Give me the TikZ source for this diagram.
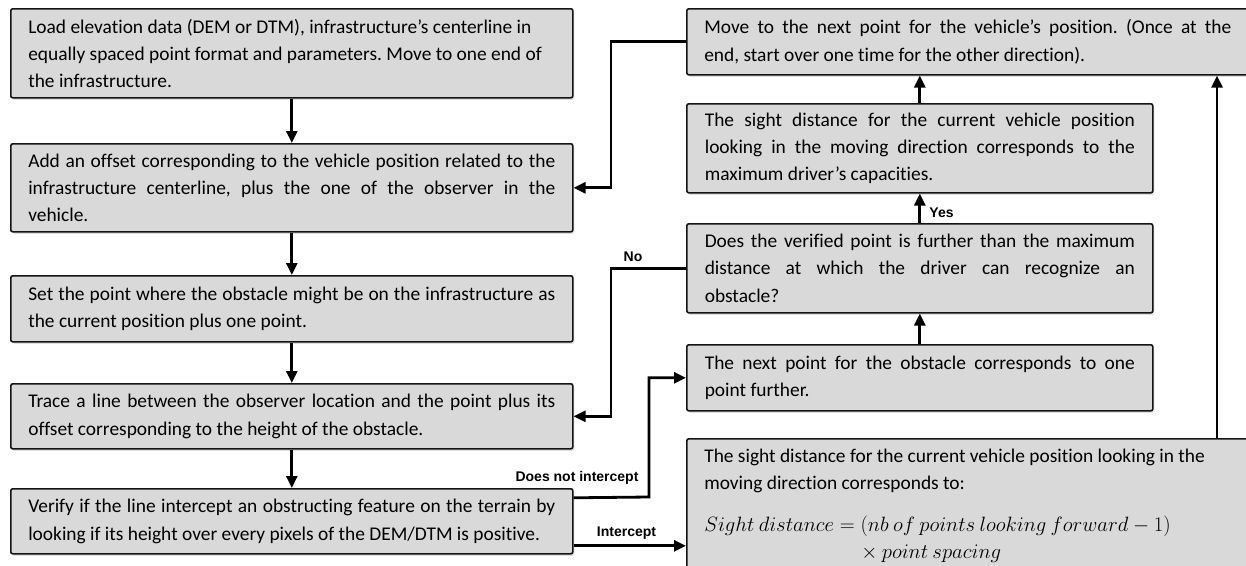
\documentclass[tikz,border=0pt]{standalone}
\usepackage{xcolor}
\usepackage{fontspec}
\setmainfont{Carlito}[Ligatures=CommonOff]
\newfontfamily\labelfont{Liberation Sans}
\usepackage{tikz}
\usetikzlibrary{arrows.meta, positioning, calc, shadows}
\definecolor{boxfill}{RGB}{217, 217, 217}
\definecolor{boxline}{RGB}{20, 20, 20}
\frenchspacing

\tikzset{
    stepbox/.style={fill=boxfill, draw=boxline, line width=1.6pt, rounded corners=2pt,
          drop shadow={opacity=0.25, shadow xshift=1.5pt, shadow yshift=-2pt},
          anchor=north west, inner xsep=17.5pt, inner ysep=0pt, text width=527pt, align=justify,
          font=\fontsize{19.4}{27.3}\selectfont},
    narrowbox/.style={stepbox, text width=430pt, inner xsep=18pt},
    flow/.style={line width=2.8pt, -{Triangle[width=11pt, length=12pt]}},
    lbl/.style={font=\labelfont\bfseries\fontsize{14}{16}\selectfont, inner sep=0pt}
}

\begin{document}
\begin{tikzpicture}[x=1pt, y=-1pt]
    \useasboundingbox (0,0) rectangle (1246,565);

    % left column
    \node[stepbox, minimum height=89pt] (load) at (10,8) {
        Load elevation data (DEM or DTM), infrastructure’s centerline in\newline
        equally spaced point format and parameters. Move to one end of\newline
        the infrastructure.};
    \node[stepbox, minimum height=88pt] (offset) at (10,143) {
        Add an offset corresponding to the vehicle position related to the\linebreak
        infrastructure centerline, plus the one of the observer in the\linebreak
        vehicle.};
    \node[stepbox, minimum height=66pt] (setpt) at (10,275) {
        Set the point where the obstacle might be on the infrastructure as\linebreak
        the current position plus one point.};
    \node[stepbox, minimum height=65pt] (trace) at (10,383) {
        Trace a line between the observer location and the point plus its\linebreak
        offset corresponding to the height of the obstacle.};
    \node[stepbox, minimum height=65pt] (verify) at (10,488) {
        Verify if the line intercept an obstructing feature on the terrain by\linebreak
        looking if its height over every pixels of the DEM/DTM is positive.};

    % right column
    \node[stepbox, minimum height=66pt] (nextpos) at (686,8) {
        Move to the next point for the vehicle’s position. (Once at the\linebreak
        end, start over one time for the other direction).};
    \node[narrowbox, minimum height=89pt] (maxsight) at (686,103) {
        The sight distance for the current vehicle position\linebreak
        looking in the moving direction corresponds to the\linebreak
        maximum driver’s capacities.};
    \node[narrowbox, minimum height=89pt] (further) at (686,223) {
        Does the verified point is further than the maximum\linebreak
        distance at which the driver can recognize an\linebreak
        obstacle?};
    \node[narrowbox, minimum height=66pt] (nextobs) at (686,344) {
        The next point for the obstacle corresponds to one\linebreak
        point further.};
    \node[stepbox, minimum height=134pt] (sightdist) at (686,438) {
        The sight distance for the current vehicle position looking in the\newline
        moving direction corresponds to:\par\vspace{14pt}
        $Sight\ distance = (nb\ of\ points\ looking\ forward - 1)$\newline
        \hspace*{157pt}$\times\ point\ spacing$};

    \coordinate (rcol) at (1217,0);
    \coordinate (dni) at (649,497);

    % connectors
    \draw[flow] (load.south) -- (offset.north);
    \draw[flow] (offset.south) -- (setpt.north);
    \draw[flow] (setpt.south) -- (trace.north);
    \draw[flow] (trace.south) -- (verify.north);
    \draw[flow] (nextobs.north) -- (further.south);
    \draw[flow] (further.north) -- (maxsight.south);
    \draw[flow] (maxsight.north) -- (maxsight.north |- nextpos.south);
    \draw[flow] (sightdist.north -| rcol) -- (nextpos.south -| rcol);
    \draw[flow] (nextpos.west) -- ++(-75,0) |- (offset.east);
    \draw[flow] (further.west) -- ++(-75,0) |- (trace.east);
    \draw[flow] ([yshift=23.5pt]verify.east) -- (dni) |- (nextobs.west);
    \draw[flow] ([yshift=-24.5pt]verify.east) -- ([yshift=-24.5pt]verify.east -| sightdist.west);

    % labels
    \node[lbl] (lno) at (633,257) {No};
    \node[lbl] (lyes) at (941.5,213) {Yes};
    \node[lbl] (ldni) at (577,478) {Does not intercept};
    \node[lbl] (lint) at (626.5,533) {Intercept};
\end{tikzpicture}
\end{document}
